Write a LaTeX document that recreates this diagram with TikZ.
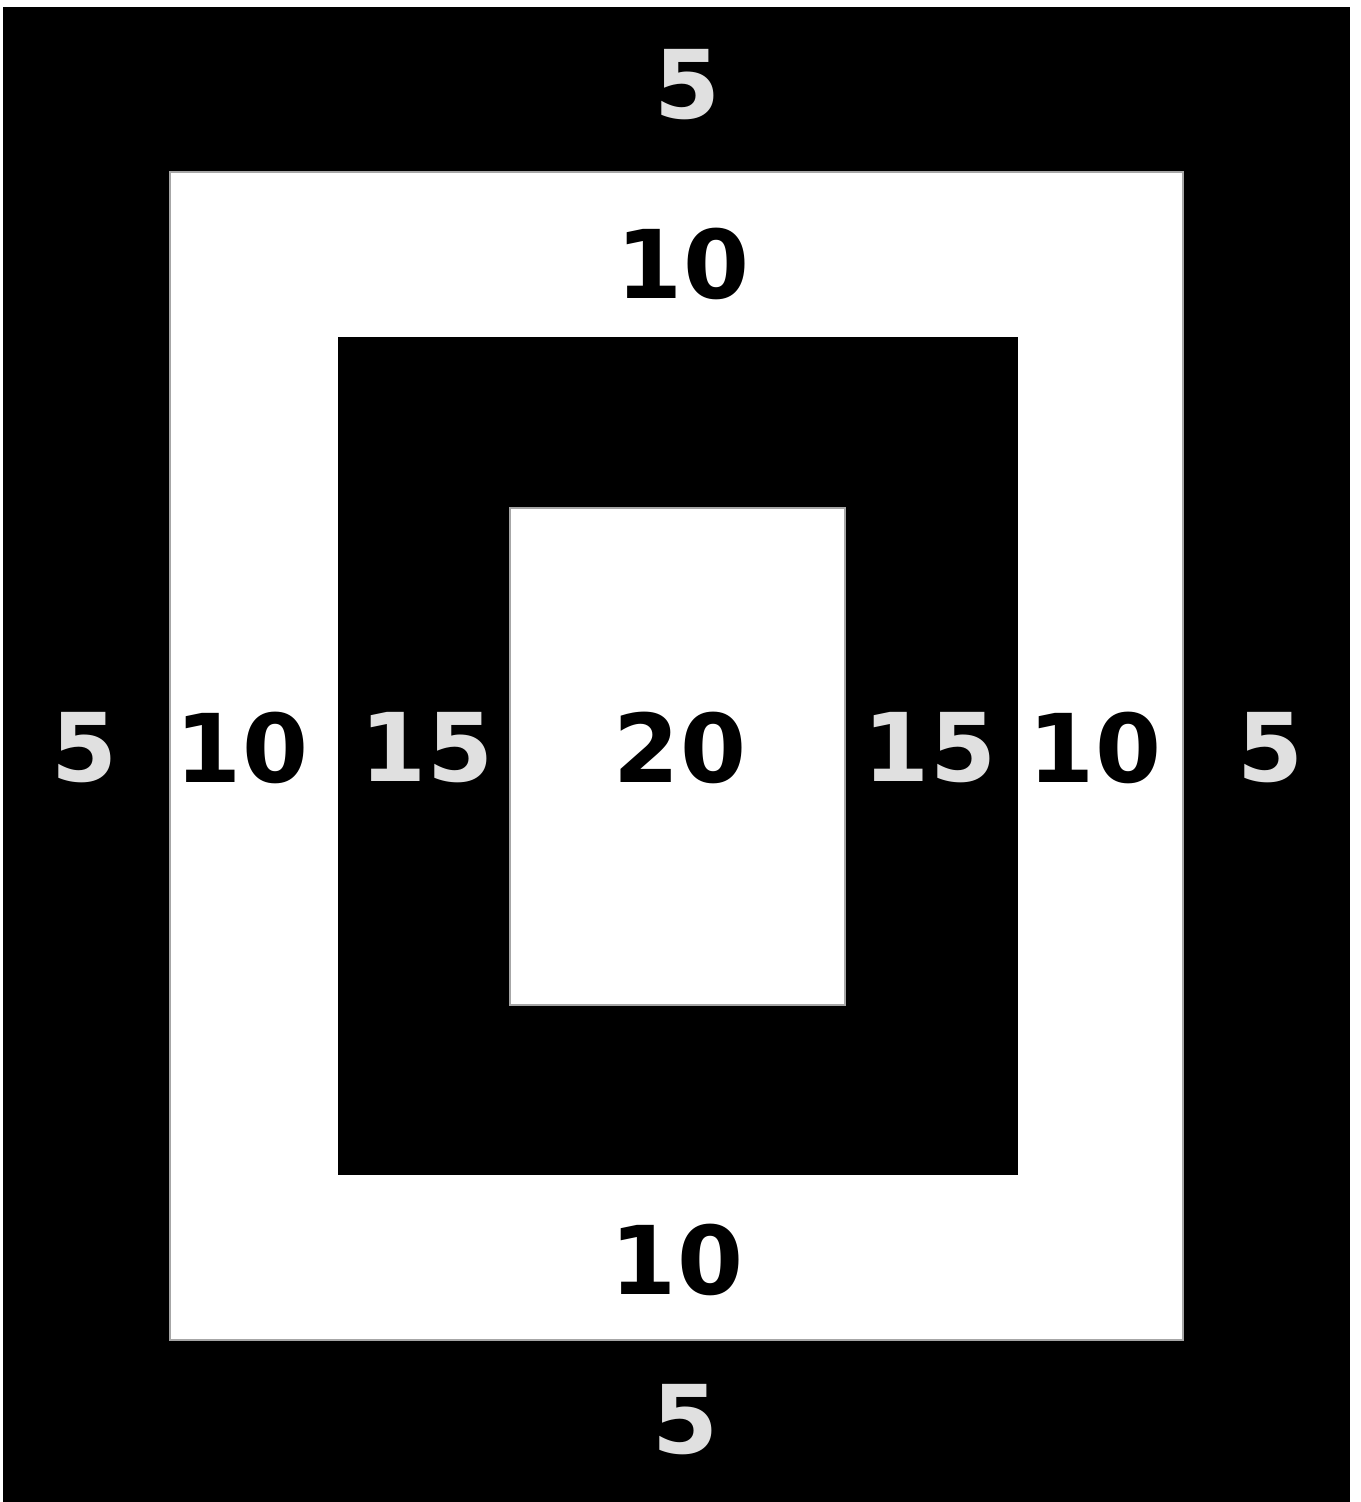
\documentclass[tikz,border=0pt]{standalone}
\usepackage{fontspec}
\newfontfamily\digitfont{DejaVu Sans}
\usetikzlibrary{positioning}

\begin{document}
\begin{tikzpicture}[x=0.02cm,y=-0.02cm,
  band/.style={rectangle,inner sep=0pt,outer sep=0pt},
  darkband/.style={band,fill=black},
  lightband/.style={band,fill=white,draw=gray!70,line width=1pt},
  num/.style={inner sep=0pt,font=\digitfont\bfseries\fontsize{54}{54}\selectfont},
  onlight/.style={num,text=black},
  ondark/.style={num,text=white!88!black}]
\useasboundingbox[fill=white] (0,0) rectangle (1361,1502);
% nested rings
\node[darkband,minimum width=26.94cm,minimum height=29.9cm] (ring5) at (676.5,754.5) {};
\node[lightband,minimum width=20.26cm,minimum height=23.36cm] (ring10) at (676.5,756) {};
\node[darkband,minimum width=13.6cm,minimum height=16.76cm] (ring15) at (678,756) {};
\node[lightband,minimum width=6.7cm,minimum height=9.94cm] (ring20) at (677.5,756.5) {};
% labels
\node[ondark] (top5) at (688,85) {5};
\node[onlight] (top10) at (683,264) {10};
\node[ondark] (left5) at (85,748) {5};
\node[onlight] (left10) at (242,748) {10};
\node[ondark] (left15) at (427,748) {15};
\node[onlight] (mid20) at (680,748) {20};
\node[ondark] (right15) at (930,748) {15};
\node[onlight] (right10) at (1095,748) {10};
\node[ondark] (right5) at (1270,748) {5};
\node[onlight] (bot10) at (677,1260) {10};
\node[ondark] (bot5) at (686,1420) {5};
\end{tikzpicture}
\end{document}
